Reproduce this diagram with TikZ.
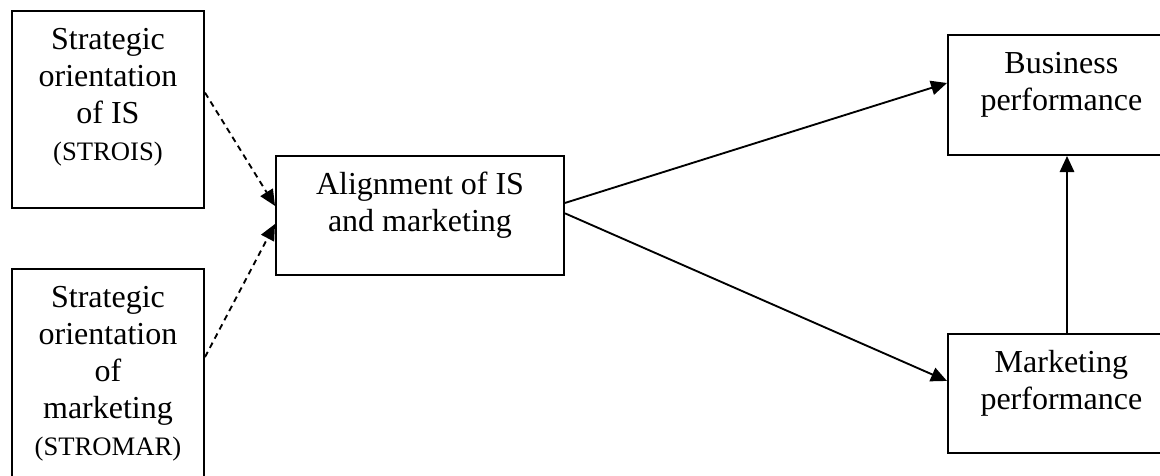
\documentclass[tikz,border=0pt]{standalone}
\usepackage{fontspec}
\setmainfont{Liberation Serif}
\usetikzlibrary{arrows.meta}
\newcommand{\boxtext}[3]{\parbox[t][#2][t]{#1}{\centering\rule{0pt}{14.4pt}#3}}

\begin{document}
\begin{tikzpicture}[x=0.375pt,y=-0.375pt,
  box/.style={draw,line width=0.75pt,inner sep=0pt,anchor=north west,font=\fontsize{12}{13.9}\selectfont},
  link/.style={line width=0.7pt,-{Triangle[length=6pt,width=5.4pt]}},
  hint/.style={link,dash pattern=on 2.2pt off 1.7pt}]
\useasboundingbox (0,0) rectangle (1160,475);
\clip (0,0) rectangle (1160,475);
% boxes
\node[box] (strois) at (11,10) {\boxtext{72pt}{73.9pt}{Strategic\\ orientation\\ of IS\\ {\fontsize{10}{13.9}\selectfont (STROIS)}}};
\node[box] (stromar) at (11,268) {\boxtext{72pt}{82.5pt}{Strategic\\ orientation\\ of\\ marketing\\ {\fontsize{10}{13.9}\selectfont (STROMAR)}}};
\node[box] (align) at (275,155) {\boxtext{108pt}{44.6pt}{Alignment of IS\\ and marketing}};
\node[box] (busperf) at (947,34) {\boxtext{85pt}{45pt}{Business\\ performance}};
\node[box] (mktperf) at (947,333) {\boxtext{85pt}{44.6pt}{Marketing\\ performance}};
% connectors
\draw[hint] ([yshift=-31pt]strois.north east) -- ([yshift=3.6pt]align.west);
\draw[hint] ([yshift=-33.4pt]stromar.north east) -- ([yshift=-3.2pt]align.west);
\draw[link] ([yshift=4.7pt]align.east) -- ([yshift=4.5pt]busperf.west);
\draw[link] ([yshift=0.8pt]align.east) -- ([yshift=4.7pt]mktperf.west);
\draw[link] ([xshift=45pt]mktperf.north west) -- ([xshift=45pt]busperf.south west);
\end{tikzpicture}
\end{document}
